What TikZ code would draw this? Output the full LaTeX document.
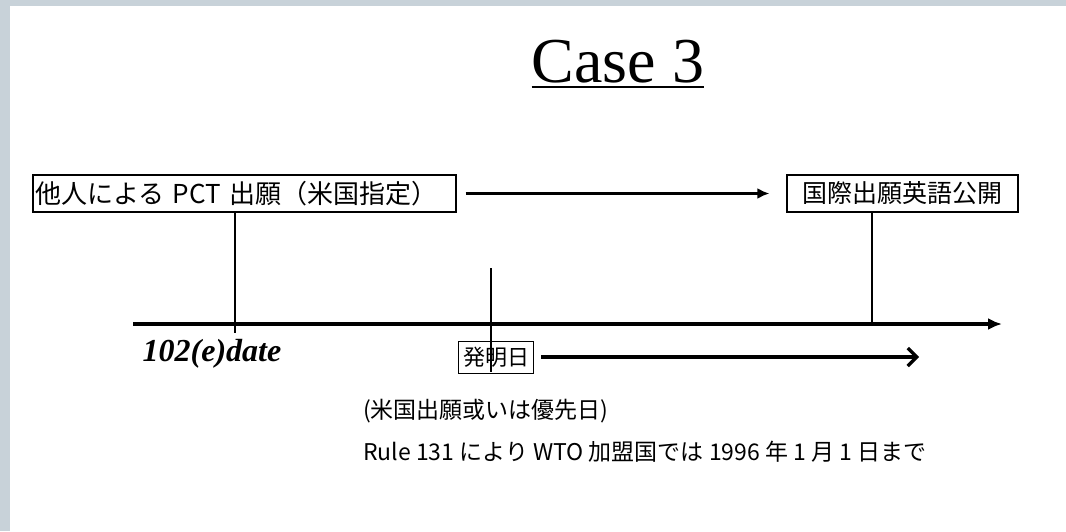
\documentclass[tikz,border=0pt]{standalone}
\usepackage{fontspec}
\setmainfont{Liberation Serif}
\newfontfamily\jp{Noto Sans CJK JP}
\usetikzlibrary{arrows.meta}
\definecolor{framegray}{HTML}{C8D2D9}
\begin{document}
\begin{tikzpicture}[x=1pt,y=-1pt,
  jbox/.style={draw, line width=1.2pt, inner sep=0pt, font=\jp\fontsize{25}{28}\selectfont},
  thinline/.style={line width=1.2pt},
  bigarrow/.style={line width=3.5pt, -{Latex[length=12pt,width=11pt]}},
  jtext/.style={anchor=west, inner sep=0pt, font=\jp\fontsize{23}{25}\selectfont},
 ]
\useasboundingbox (0,0) rectangle (1066,531);
\fill[framegray] (0,0) rectangle (1066,531);
\fill[white] (10,6) rectangle (1066,531);
% title
\node[inner sep=0pt, font=\fontsize{64}{70}\selectfont, anchor=base] (title) at (618,82) {Case 3};
\draw[line width=2.8pt] ([yshift=-5pt]title.base west) -- ([yshift=-5pt]title.base east);
% boxes
\node[jbox, minimum width=423pt, minimum height=37pt, text width=419pt, align=left, font=\jp\fontsize{26}{28}\selectfont] (pct) at (244.5,193.5) {他人による PCT 出願（米国指定）};
\node[jbox, minimum width=231pt, minimum height=37pt] (pub) at (902.5,193.5) {国際出願英語公開};
\draw[bigarrow, shorten <=9pt, shorten >=17pt] (pct.east) -- (pub.west);
% timeline
\coordinate (tl0) at (133,324);
\coordinate (tl1) at (1002,324);
\draw[line width=3.5pt, -{Latex[length=14pt,width=12pt]}] (tl0) -- (tl1);
% verticals
\coordinate (v1) at (235,333);
\draw[thinline] (pct.south -| v1) -- (v1);
\coordinate (v2a) at (491,268);
\coordinate (v2b) at (491,372);
\draw[thinline] (v2a) -- (v2b);
\coordinate (v3) at (872,324);
\draw[thinline] (pub.south -| v3) -- (v3);
% labels on timeline
\node[font=\bfseries\itshape\fontsize{32}{34}\selectfont, inner sep=0pt] (date) at (212,354) {102(e)date};
\node[draw, line width=1pt, font=\jp\fontsize{22}{24}\selectfont, minimum width=75pt, minimum height=32pt, inner sep=0pt] (inv) at (496,357) {発明日};
\coordinate (a2) at (919,356);
\draw[line width=3.2pt, -{Straight Barb[length=9pt,width=18pt,line width=3.2pt]}, shorten <=7pt] (inv.east) -- (inv.east -| a2);
% notes
\node[jtext] (note1) at (363,411) {(米国出願或いは優先日)};
\node[jtext] (note2) at (363,452) {Rule 131 により WTO 加盟国では 1996 年 1 月 1 日まで};
\end{tikzpicture}
\end{document}
